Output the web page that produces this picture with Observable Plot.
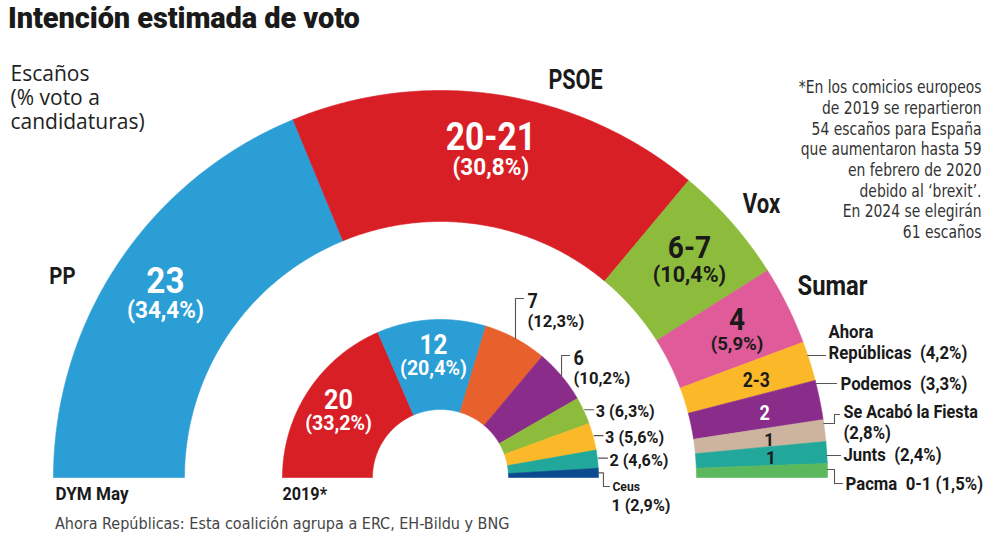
<!DOCTYPE html>
<html><head><meta charset="utf-8">
<script src="https://cdn.jsdelivr.net/npm/d3@7"></script>
<script src="https://cdn.jsdelivr.net/npm/@observablehq/plot@0.6"></script>
<style>
body{margin:0;background:#fff;width:990px;height:556px;overflow:hidden;}
#title{height:38px;line-height:36px;padding-left:8px;font-family:Roboto,"DejaVu Sans",sans-serif;font-weight:900;font-size:29px;color:#1a1a1a;letter-spacing:-0.1px;}
#chart{height:476px;}
#caption{height:22px;line-height:20px;padding-left:55px;font-family:"Liberation Sans Narrow","DejaVu Sans Condensed",Roboto,sans-serif;font-size:16px;color:#444;}
</style></head>
<body>
<div id="title">Intención estimada de voto</div>
<div id="chart"></div>
<div id="caption">Ahora Repúblicas: Esta coalición agrupa a ERC, EH-Bildu y BNG</div>
<script>
// ---- DATA: DYM May (outer ring) ----
const partiesMay = ["PP","PSOE","Vox","Sumar","Ahora Repúblicas","Podemos","Se Acabó la Fiesta","Junts","Pacma"];
const seatsMay   = ["23","20-21","6-7","4","2-3","2","1","1","0-1"];
const arcMay     = [22.8, 21, 6, 4, 2, 2, 1.1, 1.1, 0.7];   // seats as drawn
const voteMay    = ["34,4%","30,8%","10,4%","5,9%","4,2%","3,3%","2,8%","2,4%","1,5%"];
const colorsMay  = ["#2a9ed5","#d81f26","#8dbb3b","#df5b99","#fbb929","#8a2d8a","#ccb49f","#21a89a","#5cb85c"];
// ---- DATA: 2019 (inner ring) ----
const parties2019 = ["PSOE","PP","Cs","Podemos","Vox","Ahora Repúblicas","Junts","Ceus"];
const seats2019   = [20, 12, 7, 6, 3, 3, 2, 1];
const vote2019    = ["33,2%","20,4%","12,3%","10,2%","6,3%","5,6%","4,6%","2,9%"];
const colors2019  = ["#d81f26","#2a9ed5","#e8602c","#8a2d8a","#8dbb3b","#fbb929","#21a89a","#0b4a8e"];
const footnote = "*En los comicios europeos\nde 2019 se repartieron\n54 escaños para España\nque aumentaron hasta 59\nen febrero de 2020\ndebido al ‘brexit’.\nEn 2024 se elegirán\n61 escaños";

// ---- layout ----
const W = 990, H = 476, top0 = 38;
const cx = 440, cy = 477;
const BOLD = 'Roboto,"DejaVu Sans",sans-serif';
const NARROW = '"Liberation Sans Narrow","DejaVu Sans Condensed",Roboto,sans-serif';
const SANS = '"Open Sans","Noto Sans",sans-serif';
const INK = "#1a1a1a";

function segments(values, colors, r0, r1) {
  const ang = d3.scaleLinear().domain([0, d3.sum(values)]).range([Math.PI, 0]);
  let acc = 0;
  return values.map((v, i) => {
    const a0 = ang(acc); acc += v; const a1 = ang(acc);
    return {i, a0, a1, mid: (a0 + a1) / 2, r0, r1, color: colors[i]};
  });
}
const pt = (r, a) => ({x: cx + r * Math.cos(a), y: cy - r * Math.sin(a)});
function polygon(s, key) {
  const n = Math.max(2, Math.ceil(Math.abs(s.a0 - s.a1) / (Math.PI / 360)));
  const pts = [];
  for (let k = 0; k <= n; k++) pts.push({key, color: s.color, ...pt(s.r1, s.a0 + (s.a1 - s.a0) * k / n)});
  for (let k = n; k >= 0; k--) pts.push({key, color: s.color, ...pt(s.r0, s.a0 + (s.a1 - s.a0) * k / n)});
  pts.push({...pts[0]});
  return pts;
}

const segMay = segments(arcMay, colorsMay, 256, 387);
const seg19 = segments(seats2019, colors2019, 68, 158);
const polys = [
  ...segMay.flatMap(s => polygon(s, "m" + s.i)),
  ...seg19.flatMap(s => polygon(s, "n" + s.i))
];

const labels = [];   // {x,y,text,size,weight,color,anchor,font,lh,sx}
const leaders = [];  // {key,x,y}
const L = (o) => labels.push(Object.assign({weight: 700, color: INK, anchor: "middle", font: BOLD, lh: 1.2, sx: 0.93}, o));

// outer ring value labels
const outerStyle = [
  {n: 37, p: 23, dn: -15, dp: 16, c: "white", s: 0.9},
  {n: 39, p: 23, dn: -15, dp: 16, c: "white", s: 0.86},
  {n: 32, p: 22, dn: -14, dp: 14, c: INK, s: 0.88},
  {n: 31, p: 19, dn: -12, dp: 12, c: INK, s: 0.9},
  {n: 20, c: INK, s: 0.88}, {n: 20, c: "white", s: 0.9}, {n: 19, c: INK, s: 0.9}, {n: 19, c: INK, s: 0.9}, null
];
segMay.forEach((s, i) => {
  const st = outerStyle[i]; if (!st) return;
  const c = pt(331, s.mid);
  if (st.p) {
    L({x: c.x, y: c.y + st.dn, text: seatsMay[i], size: st.n, color: st.c, sx: st.s});
    L({x: c.x, y: c.y + st.dp, text: "(" + voteMay[i] + ")", size: st.p, color: st.c, sx: 0.98});
  } else {
    L({x: c.x, y: c.y + 1, text: seatsMay[i], size: st.n, color: st.c, sx: st.s});
  }
});
// outer ring party names
L({x: 62, y: 274, text: partiesMay[0], size: 24, sx: 0.85});
L({x: 575, y: 78, text: partiesMay[1], size: 27, sx: 0.8});
L({x: 761, y: 202, text: partiesMay[2], size: 27, sx: 0.82});
L({x: 832, y: 284, text: partiesMay[3], size: 27, sx: 0.88});
// outer ring right side labels with leaders
const arcX = (r, y) => cx + Math.sqrt(r * r - (cy - y) * (cy - y));
L({x: 828, y: 331, text: "Ahora", size: 18, anchor: "start"});
L({x: 828, y: 352, text: "Repúblicas\u00a0 (" + voteMay[4] + ")", size: 18, anchor: "start"});
leaders.push({key: "a", x: arcX(387, 355), y: 355}, {key: "a", x: 825, y: 355});
L({x: 840, y: 383, text: partiesMay[5] + "\u00a0 (" + voteMay[5] + ")", size: 18, anchor: "start"});
leaders.push({key: "b", x: arcX(387, 383), y: 383}, {key: "b", x: 836, y: 383});
L({x: 843, y: 411, text: partiesMay[6], size: 18, anchor: "start", sx: 0.9});
L({x: 843, y: 432, text: "(" + voteMay[6] + ")", size: 18, anchor: "start"});
leaders.push({key: "c", x: arcX(387, 423), y: 423}, {key: "c", x: 834, y: 423}, {key: "c", x: 834, y: 414}, {key: "c", x: 839, y: 414});
L({x: 843, y: 454, text: partiesMay[7] + "\u00a0 (" + voteMay[7] + ")", size: 18, anchor: "start"});
leaders.push({key: "d", x: arcX(387, 455), y: 455}, {key: "d", x: 840, y: 455});
L({x: 845, y: 483, text: partiesMay[8] + "\u00a0 " + seatsMay[8] + " (" + voteMay[8] + ")", size: 18, anchor: "start"});
leaders.push({key: "e", x: arcX(387, 469), y: 469}, {key: "e", x: 834, y: 469}, {key: "e", x: 834, y: 483}, {key: "e", x: 842, y: 483});

// inner ring labels
[[0, 28], [1, 27]].forEach(([i, fs]) => {
  const c = pt(122, seg19[i].mid);
  L({x: c.x, y: c.y - 12, text: String(seats2019[i]), size: fs, color: "white", sx: 0.9});
  L({x: c.x, y: c.y + 12, text: "(" + vote2019[i] + ")", size: 20, color: "white", sx: 0.98});
});
// Cs & Podemos: leader goes up
[[2, 298, 300, 320], [3, 355, 357, 377]].forEach(([i, ty, y1, y2]) => {
  const p = pt(158, seg19[i].mid);
  leaders.push({key: "u" + i, x: p.x, y: p.y}, {key: "u" + i, x: p.x, y: ty}, {key: "u" + i, x: p.x + 8, y: ty});
  L({x: p.x + 12, y: y1, text: String(seats2019[i]), size: 20, anchor: "start", sx: 0.9});
  L({x: p.x + 12, y: y2, text: "(" + vote2019[i] + ")", size: 17, anchor: "start", sx: 0.98});
});
// Vox, AR, Junts: horizontal leader
[4, 5, 6].forEach(i => {
  const p = pt(158, seg19[i].mid);
  leaders.push({key: "h" + i, x: p.x + 1, y: p.y - 1}, {key: "h" + i, x: p.x + 10, y: p.y - 1});
  L({x: p.x + 12, y: p.y, text: seats2019[i] + " (" + vote2019[i] + ")", size: 16.5, anchor: "start", sx: 0.98});
});
// Ceus: leader goes down
{
  const p = pt(158, seg19[7].mid);
  leaders.push({key: "dn", x: p.x, y: p.y}, {key: "dn", x: p.x + 5, y: p.y}, {key: "dn", x: p.x + 5, y: 486}, {key: "dn", x: p.x + 11, y: 486});
  L({x: p.x + 14, y: 485, text: parties2019[7], size: 13.5, anchor: "start", sx: 0.9});
  L({x: p.x + 13, y: 504, text: seats2019[7] + " (" + vote2019[7] + ")", size: 16.5, anchor: "start", sx: 0.98});
}
// titles and notes inside the chart area
L({x: 55, y: 493, text: "DYM May", size: 18, anchor: "start", sx: 0.95});
L({x: 282, y: 493, text: "2019*", size: 18, anchor: "start", sx: 0.9});
L({x: 10, y: 97, text: "Escaños\n(% voto a\ncandidaturas)", size: 21, weight: 400, anchor: "start", font: SANS, color: "#222", lh: 1.15, sx: 1});
L({x: 981, y: 158.5, text: footnote, size: 17, weight: 400, anchor: "end", font: NARROW, color: "#333", lh: 1.22, sx: 0.91});

const chart = Plot.plot({
  width: W, height: H, margin: 0,
  x: {domain: [0, W], axis: null},
  y: {domain: [top0, top0 + H], reverse: true, axis: null},
  color: {type: "identity"},
  marks: [
    Plot.line(polys, {x: "x", y: "y", z: "key", fill: "color", stroke: "color", strokeWidth: 0.6, curve: "linear"}),
    Plot.line(leaders, {x: "x", y: "y", z: "key", stroke: "#555", strokeWidth: 1.1, curve: "linear"}),
    ...labels.map(d => Plot.text([d], {
      x: "x", y: "y", text: "text", fontSize: d.size, fontWeight: d.weight, fill: d.color,
      textAnchor: d.anchor, fontFamily: d.font, lineHeight: d.lh
    }))
  ]
});
// horizontally condense label glyphs around their anchor point
chart.querySelectorAll('g[aria-label="text"]').forEach((g, i) => {
  const s = labels[i] ? labels[i].sx : 1;
  if (s === 1) return;
  g.querySelectorAll("text").forEach(t => {
    const tr = t.getAttribute("transform");
    if (tr) t.setAttribute("transform", tr + ` scale(${s},1)`);
    else {
      const x = +(t.getAttribute("x") || 0), y = +(t.getAttribute("y") || 0);
      t.setAttribute("transform", `translate(${x},${y}) scale(${s},1) translate(${-x},${-y})`);
    }
  });
});
document.getElementById("chart").appendChild(chart);
</script>
</body></html>
